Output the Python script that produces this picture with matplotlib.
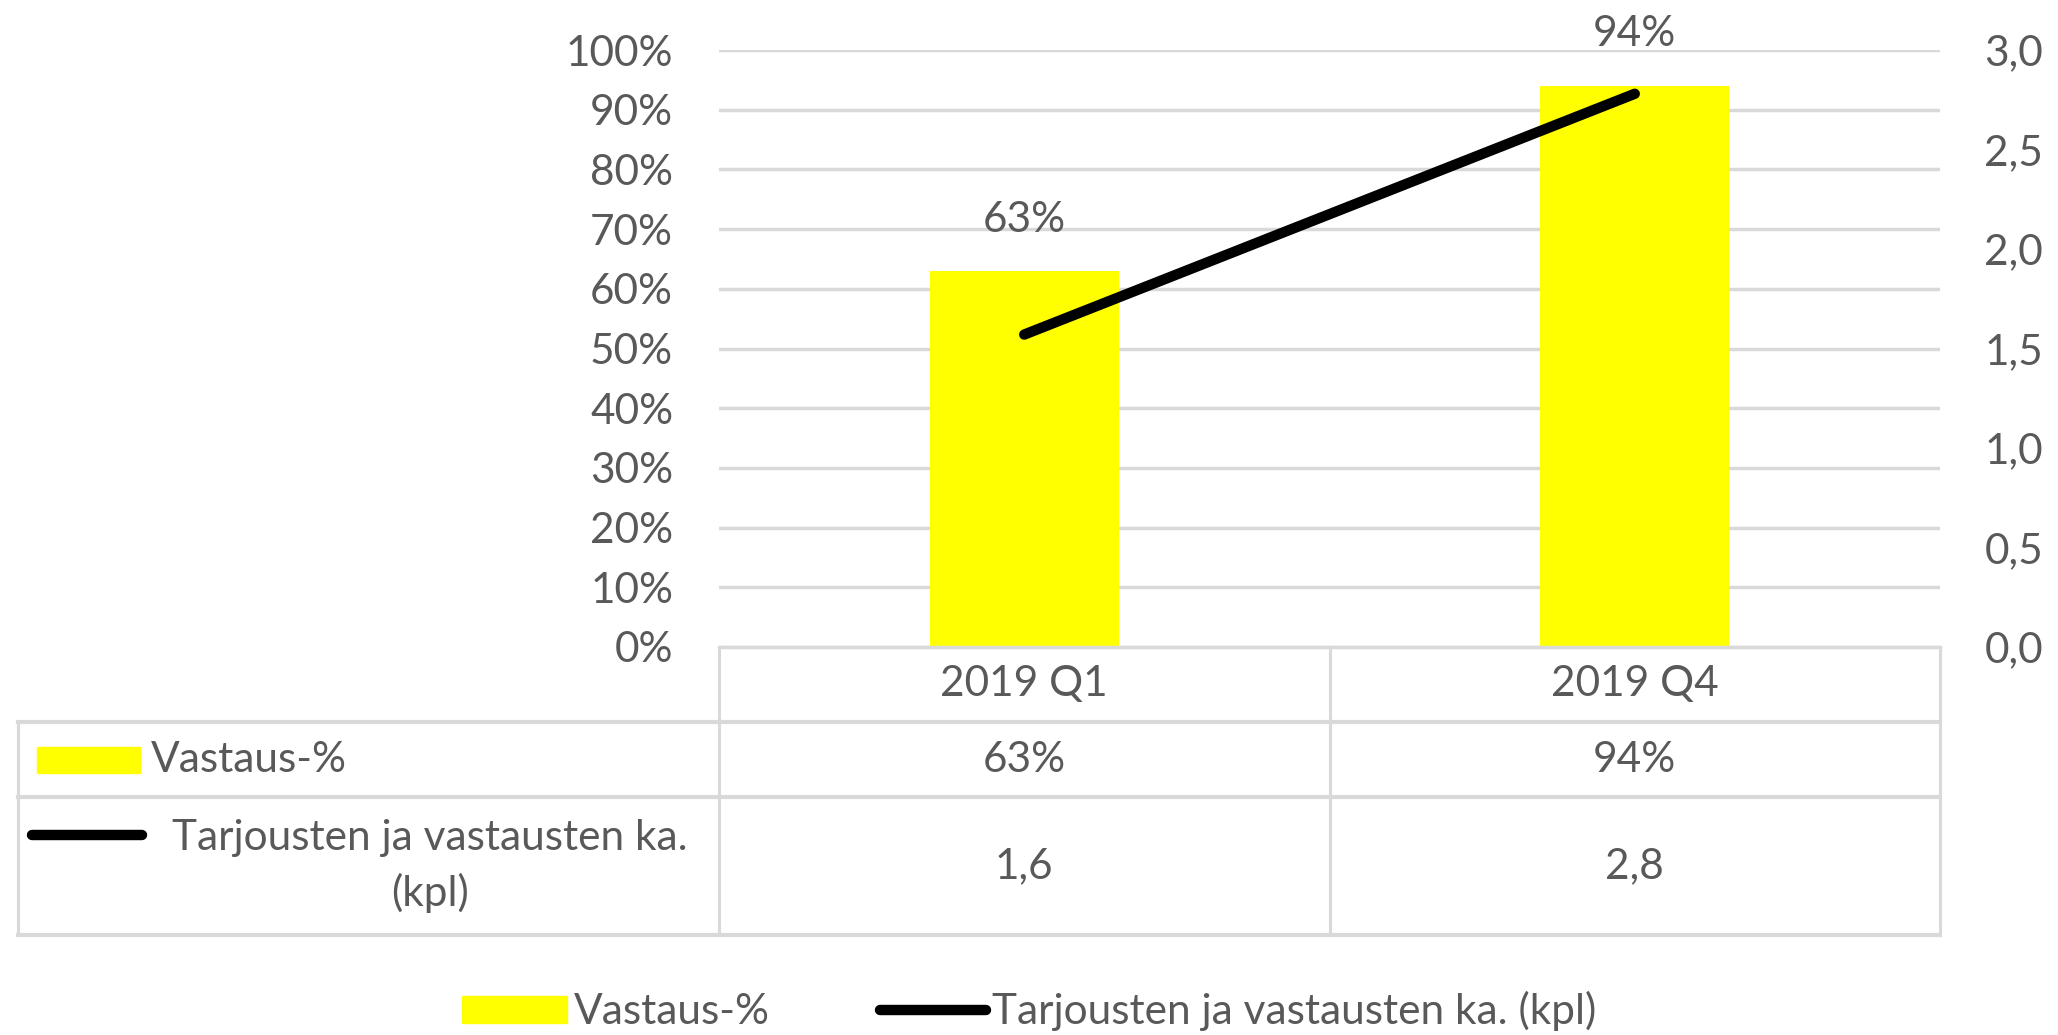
import matplotlib
matplotlib.use("Agg")
import matplotlib.pyplot as plt
import matplotlib.transforms as mtransforms
from matplotlib.patches import Patch, Rectangle
from matplotlib.lines import Line2D

categories = ["2019 Q1", "2019 Q4"]
vastaus_pct = [0.63, 0.94]
tarjoukset_ka = [1.57, 2.78]
bar_label = "Vastaus-%"
line_label = "Tarjousten ja vastausten ka. (kpl)"
line_label_table = "Tarjousten ja vastausten ka.\n(kpl)"

TXT = "#595959"
GRID = "#D9D9D9"
YEL = "#FFFF00"
FS = 30.5
plt.rcParams["font.family"] = ["Lato", "DejaVu Sans"]

fig = plt.figure(figsize=(20.58, 10.35), dpi=100)
ax = fig.add_axes([719 / 2058, 388 / 1035, 1221 / 2058, 597 / 1035])
ax2 = ax.twinx()

x = list(range(len(categories)))
ax.bar(x, vastaus_pct, width=0.31, color=YEL, zorder=2)
for xi, v in zip(x, vastaus_pct):
    ax.annotate(f"{round(v * 100)}%", (xi, v), xytext=(0, 37), textcoords="offset points",
                ha="center", va="center", fontsize=FS, color=TXT)

ax2.plot(x, tarjoukset_ka, color="black", lw=7.5, solid_capstyle="round", zorder=3)

ax.set_xlim(-0.5, len(categories) - 0.5)
ax.set_ylim(0, 1)
ax.set_yticks([i / 10 for i in range(11)])
ax.set_yticklabels([f"{i * 10}%" for i in range(11)])
ax2.set_ylim(0, 3)
ax2.set_yticks([i * 0.5 for i in range(7)])
ax2.set_yticklabels([f"{i * 0.5:.1f}".replace(".", ",") for i in range(7)])
ax.grid(axis="y", color=GRID, lw=2.5, zorder=0)
ax.set_axisbelow(True)
ax.set_xticks([])
for a in (ax, ax2):
    for s in a.spines.values():
        s.set_visible(False)
    a.tick_params(axis="y", length=0, labelsize=FS, labelcolor=TXT)
ax.tick_params(axis="y", pad=33)
ax2.tick_params(axis="y", pad=32)

# data table under the plot
tr = mtransforms.blended_transform_factory(ax.transData, ax.transAxes)
px = 1 / 597  # one pixel in axes height units
x_left = -0.5 - 701 / 610.5
x_right = len(categories) - 0.5
row_y = [0, -75 * px, -150 * px, -288 * px]

def hline(x0, x1, y, lw=3):
    ax.add_line(Line2D([x0, x1], [y, y], transform=tr, color=GRID, lw=lw, clip_on=False))

def vline(xv, y0, y1):
    ax.add_line(Line2D([xv, xv], [y0, y1], transform=tr, color=GRID, lw=2.2, clip_on=False))

hline(-0.5, x_right, row_y[0], lw=2.5)
for y in row_y[1:]:
    hline(x_left, x_right, y)
for xv in [i - 0.5 for i in range(len(categories) + 1)]:
    vline(xv, row_y[0], row_y[3])
vline(x_left, row_y[1], row_y[3])

def mid(i):
    return (row_y[i] + row_y[i + 1]) / 2

for xi, c, v, t in zip(x, categories, vastaus_pct, tarjoukset_ka):
    ax.text(xi, mid(0), c, transform=tr, ha="center", va="center", fontsize=FS, color=TXT)
    ax.text(xi, mid(1), f"{round(v * 100)}%", transform=tr, ha="center", va="center", fontsize=FS, color=TXT)
    ax.text(xi, mid(2), f"{t:.1f}".replace(".", ","), transform=tr, ha="center", va="center", fontsize=FS, color=TXT)

# legend keys in table
ax.add_patch(Rectangle((x_left + 19 / 610.5, mid(1) - 13 * px), 103 / 610.5, 26 * px, transform=tr,
                       color=YEL, clip_on=False))
ax.text(x_left + 133 / 610.5, mid(1), bar_label, transform=tr, ha="left", va="center", fontsize=FS, color=TXT)
ax.add_line(Line2D([x_left + 14 / 610.5, x_left + 124 / 610.5], [mid(2) + 31 * px] * 2, transform=tr,
                   color="black", lw=7.5, solid_capstyle="round", clip_on=False))
ax.text(x_left + 412 / 610.5, mid(2), line_label_table, transform=tr, ha="center", va="center",
        fontsize=FS, color=TXT, linespacing=1.5)

handles = [Patch(color=YEL, label=bar_label),
           Line2D([], [], color="black", lw=7.5, solid_capstyle="round", label=line_label)]
fig.legend(handles=handles, loc="center", bbox_to_anchor=(0.5, 1 - 1011 / 1035), ncol=2, frameon=False,
           fontsize=FS, labelcolor=TXT, handlelength=2.5, handleheight=0.6, handletextpad=0.15,
           columnspacing=2.6)

fig.savefig("out.png", dpi=100)
